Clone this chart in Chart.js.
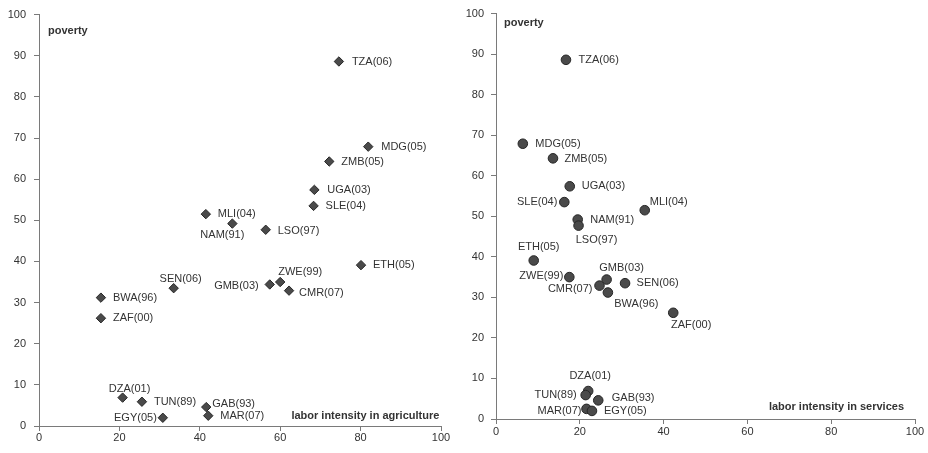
<!DOCTYPE html>
<html>
<head>
<meta charset="utf-8">
<script src="https://cdn.jsdelivr.net/npm/chart.js@4/dist/chart.umd.min.js"></script>
<style>
  body { margin: 0; background: #fff; }
  .panel { position: absolute; top: 0; width: 464px; height: 453px; }
  #leftPanel { left: 0; }
  #rightPanel { left: 464px; }
</style>
</head>
<body>
<div class="panel" id="leftPanel"><canvas id="agriChart" width="464" height="453"></canvas></div>
<div class="panel" id="rightPanel"><canvas id="servChart" width="464" height="453"></canvas></div>
<script>
const countries = ["TZA(06)", "MDG(05)", "ZMB(05)", "UGA(03)", "SLE(04)", "MLI(04)", "NAM(91)", "LSO(97)",
  "ETH(05)", "ZWE(99)", "GMB(03)", "CMR(07)", "SEN(06)", "BWA(96)", "ZAF(00)", "DZA(01)", "TUN(89)",
  "GAB(93)", "MAR(07)", "EGY(05)"];
const poverty = [88.6, 67.9, 64.3, 57.4, 53.5, 51.5, 49.2, 47.7, 39.1, 35.0, 34.4, 32.9, 33.5, 31.2, 26.2, 6.9, 5.9, 4.6, 2.5, 2.0];
const agriculture = [74.6, 81.9, 72.2, 68.5, 68.3, 41.5, 48.1, 56.4, 80.1, 60.0, 57.4, 62.2, 33.5, 15.4, 15.4, 20.8, 25.6, 41.6, 42.1, 30.8];
const services = [16.7, 6.4, 13.6, 17.6, 16.3, 35.5, 19.5, 19.7, 9.0, 17.5, 26.4, 24.7, 30.8, 26.7, 42.3, 22.0, 21.4, 24.4, 21.6, 22.9];
const xTicksStep = 20;
const yTicksStep = 10;

// label placement next to each point: [textAlign, dx, dy]
const agriLabelPlace = [
  ["left", 13, 0], ["left", 13, 0], ["left", 12, 0], ["left", 13, 0], ["left", 12, 0], ["left", 12, 0],
  ["center", -10, 11], ["left", 12, 1], ["left", 12, 0], ["center", 20, -10], ["right", -11, 1],
  ["left", 10, 2], ["center", 7, -9], ["left", 12, 0], ["left", 12, 0], ["center", 7, -8.5],
  ["left", 12, 0], ["left", 6, -3], ["left", 12, 0], ["right", -6, 0]
];
const servLabelPlace = [
  ["left", 12.5, 0], ["left", 12.5, 0], ["left", 11.5, 1], ["left", 12, 0], ["right", -7, 0], ["left", 5, -8],
  ["left", 12.5, 0], ["center", 18, 14.5], ["center", 5, -14], ["right", -6, -1], ["center", 15, -11.5],
  ["right", -7, 3], ["left", 11.5, 0], ["center", 28.5, 11.3], ["center", 18, 12.3], ["center", 2, -15.5],
  ["right", -9, 0], ["left", 13.5, -2.4], ["right", -5, 2], ["left", 12, 0]
];

const TEXT = "#333333";
const AXIS = "#7a7a7a";
const FONT = "'Liberation Sans', Arial, sans-serif";

const pointLabels = {
  id: "pointLabels",
  afterDatasetsDraw(chart, args, opts) {
    const ctx = chart.ctx;
    const meta = chart.getDatasetMeta(0);
    const area = chart.chartArea;
    ctx.save();
    ctx.fillStyle = TEXT;
    ctx.textBaseline = "middle";
    ctx.font = "11px " + FONT;
    meta.data.forEach((el, i) => {
      const place = opts.place[i];
      ctx.textAlign = place[0];
      ctx.fillText(countries[i], el.x + place[1], el.y + place[2]);
    });
    ctx.font = "bold 11px " + FONT;
    ctx.textAlign = "left";
    ctx.fillText("poverty", area.left + opts.yTitle[0], area.top + opts.yTitle[1]);
    ctx.textAlign = "right";
    ctx.fillText(opts.xTitle, area.right + opts.xTitlePos[0], area.bottom + opts.xTitlePos[1]);
    ctx.restore();
  }
};

function makeChart(canvasId, xs, style, labelOpts, layout) {
  const points = xs.map((x, i) => ({ x, y: poverty[i] }));
  return new Chart(document.getElementById(canvasId), {
    type: "scatter",
    data: {
      datasets: [{
        data: points,
        pointStyle: style.shape,
        pointRadius: style.radius,
        backgroundColor: "#4a4a4a",
        borderColor: "#262626",
        borderWidth: 1
      }]
    },
    options: {
      responsive: false,
      animation: false,
      events: [],
      layout: { padding: layout.padding },
      plugins: {
        legend: { display: false },
        tooltip: { enabled: false },
        pointLabels: labelOpts
      },
      scales: {
        x: {
          type: "linear",
          min: 0,
          max: 100,
          ticks: { stepSize: xTicksStep, color: TEXT, font: { family: FONT, size: 11 }, padding: layout.xPad },
          grid: { drawOnChartArea: false, tickLength: 5, color: AXIS },
          border: { color: AXIS, width: 1 },
          afterFit: (axis) => { axis.height = layout.xHeight; }
        },
        y: {
          min: 0,
          max: 100,
          ticks: { stepSize: yTicksStep, color: TEXT, font: { family: FONT, size: 11 }, padding: layout.yPad },
          grid: { drawOnChartArea: false, tickLength: 5, color: AXIS },
          border: { color: AXIS, width: 1 },
          afterFit: (axis) => { axis.width = layout.yWidth; }
        }
      }
    },
    plugins: [pointLabels]
  });
}

makeChart("agriChart", agriculture, { shape: "rectRot", radius: 4.7 },
  { place: agriLabelPlace, yTitle: [9, 16], xTitle: "labor intensity in agriculture", xTitlePos: [-1.7, -10.3] },
  { padding: { left: 0, right: 23, top: 11, bottom: 0 }, xHeight: 27, yWidth: 39, xPad: 0, yPad: 8 });

makeChart("servChart", services, { shape: "circle", radius: 4.8 },
  { place: servLabelPlace, yTitle: [8, 9.2], xTitle: "labor intensity in services", xTitlePos: [-11, -11.7] },
  { padding: { left: 0, right: 13, top: 13, bottom: 0 }, xHeight: 34, yWidth: 32, xPad: 1, yPad: 7 });
</script>
</body>
</html>
